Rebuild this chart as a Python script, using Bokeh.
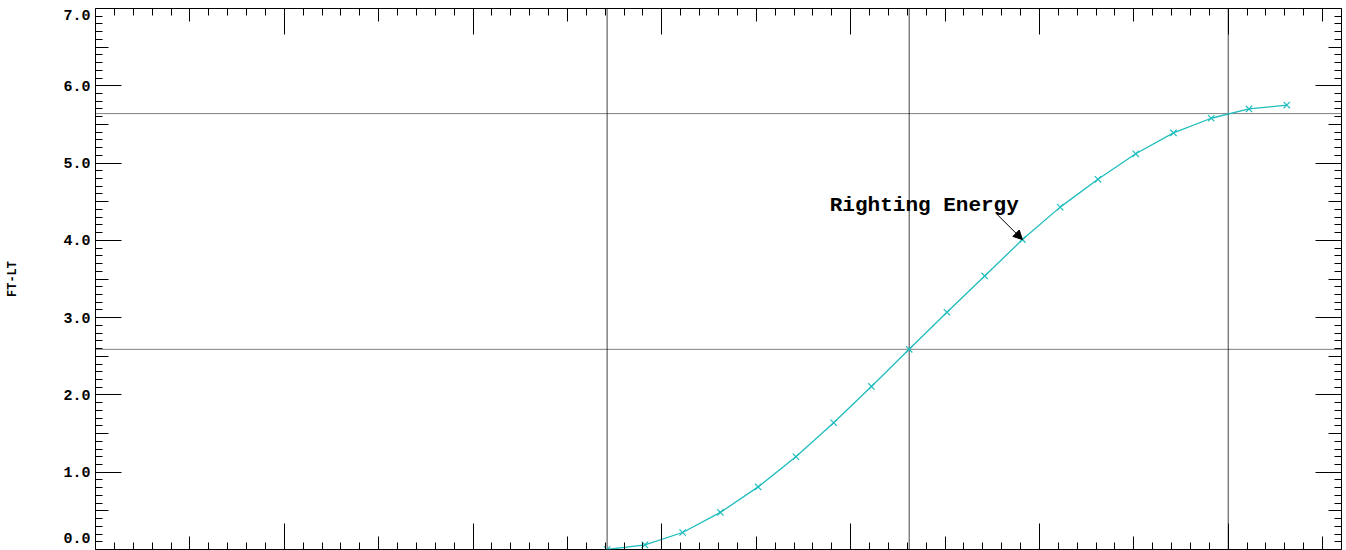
from bokeh.plotting import figure
from bokeh.models import (LinearAxis, FixedTicker, Span, Label, Arrow, NormalHead,
                          CustomJSTickFormatter, Range1d)
from bokeh.embed import file_html
from bokeh.resources import INLINE

# ---- data ----
heel_angle = [27.1, 29.1, 31.1, 33.1, 35.1, 37.1, 39.1, 41.1, 43.1, 45.1,
              47.1, 49.1, 51.1, 53.1, 55.1, 57.1, 59.1, 61.1, 63.1]
righting_energy = [0.00, 0.06, 0.22, 0.48, 0.81, 1.20, 1.64, 2.11, 2.59, 3.07,
                   3.54, 4.01, 4.43, 4.79, 5.12, 5.39, 5.58, 5.70, 5.75]
ref_angles = [27.1, 43.1, 60.0]
ref_energies = [2.59, 5.64]

x_major = [0, 10, 20, 30, 40, 50, 60]
x_medium = [5, 15, 25, 35, 45, 55, 65]
x_minor = list(range(0, 67))
y_major = [0, 1, 2, 3, 4, 5, 6, 7]
y_medium = [0.5, 1.5, 2.5, 3.5, 4.5, 5.5, 6.5]
y_minor = [i / 10 for i in range(0, 71)]
# end labels sit just inside the frame, as in the reference
y_label_pos = [0.15, 1, 2, 3, 4, 5, 6, 6.92]

y_title = "FT-LT"
note_text = "Righting Energy"
note_pos = (43.9, 4.45)
arrow_start = (47.7, 4.35)
arrow_index = 11

CYAN = "#1FBDBD"
FONT = "Liberation Mono"

p = figure(width=1342, height=550,
           x_range=Range1d(0, 66), y_range=Range1d(0, 7),
           x_axis_location=None, y_axis_location=None,
           output_backend="svg", toolbar_location=None,
           min_border_left=95, min_border_right=1,
           min_border_top=8, min_border_bottom=1)
p.grid.visible = False
p.outline_line_color = "black"
p.outline_line_width = 1
p.background_fill_color = "white"
p.border_fill_color = "white"

blank = CustomJSTickFormatter(code="return ''")


def tick_axis(ticks, minor, length, minor_len, fixed, line=True):
    return LinearAxis(
        ticker=FixedTicker(ticks=ticks, minor_ticks=minor),
        formatter=blank, fixed_location=fixed,
        major_tick_in=length, major_tick_out=0,
        minor_tick_in=minor_len, minor_tick_out=0,
        major_tick_line_color="black", minor_tick_line_color="black",
        axis_line_color="black" if line else None,
        major_label_text_font_size="0px")


# left labels (no tick marks of its own)
left = LinearAxis(
    ticker=FixedTicker(ticks=y_label_pos, minor_ticks=[]),
    formatter=CustomJSTickFormatter(code="return Math.round(tick).toFixed(1)"),
    major_tick_in=0, major_tick_out=0, minor_tick_in=0, minor_tick_out=0,
    axis_line_color=None,
    major_label_standoff=5,
    major_label_text_font=FONT, major_label_text_font_style="bold",
    major_label_text_font_size="15px", major_label_text_color="black",
    axis_label=y_title, axis_label_text_font=FONT,
    axis_label_text_font_style="bold", axis_label_text_font_size="12px",
    axis_label_text_color="black", axis_label_standoff=40)
p.add_layout(left, "left")
p.add_layout(tick_axis(y_major, y_minor, 26, 7, 0), "left")
p.add_layout(tick_axis(y_medium, [], 13, 0, 0, line=False), "left")

p.add_layout(tick_axis(y_major, y_minor, 26, 7, 66), "right")
p.add_layout(tick_axis(y_medium, [], 13, 0, 66, line=False), "right")

p.add_layout(tick_axis(x_major, x_minor, 26, 7, 7), "above")
p.add_layout(tick_axis(x_medium, [], 13, 0, 7, line=False), "above")

p.add_layout(tick_axis(x_major, x_minor, 26, 7, 0), "below")
p.add_layout(tick_axis(x_medium, [], 13, 0, 0, line=False), "below")

# reference lines
for a in ref_angles:
    p.add_layout(Span(location=a, dimension="height", line_color="#444444",
                      line_width=1, level="underlay"))
for e in ref_energies:
    p.add_layout(Span(location=e, dimension="width", line_color="black",
                      line_width=1, line_dash="1 1", level="underlay"))

# curve
p.line(heel_angle, righting_energy, line_color=CYAN, line_width=1.3)
p.scatter(heel_angle, righting_energy, marker="x", size=9,
          line_color=CYAN, line_width=1.2)

# annotation
p.add_layout(Label(x=note_pos[0], y=note_pos[1], text=note_text,
                   text_font=FONT, text_font_style="bold",
                   text_font_size="21px", text_color="black",
                   text_align="center", text_baseline="alphabetic"))
p.add_layout(Arrow(end=NormalHead(size=9, fill_color="black",
                                  line_color="black", line_width=1),
                   x_start=arrow_start[0], y_start=arrow_start[1],
                   x_end=heel_angle[arrow_index],
                   y_end=righting_energy[arrow_index],
                   line_color="black", line_width=1))

open("out.html", "w").write(file_html(p, INLINE))
